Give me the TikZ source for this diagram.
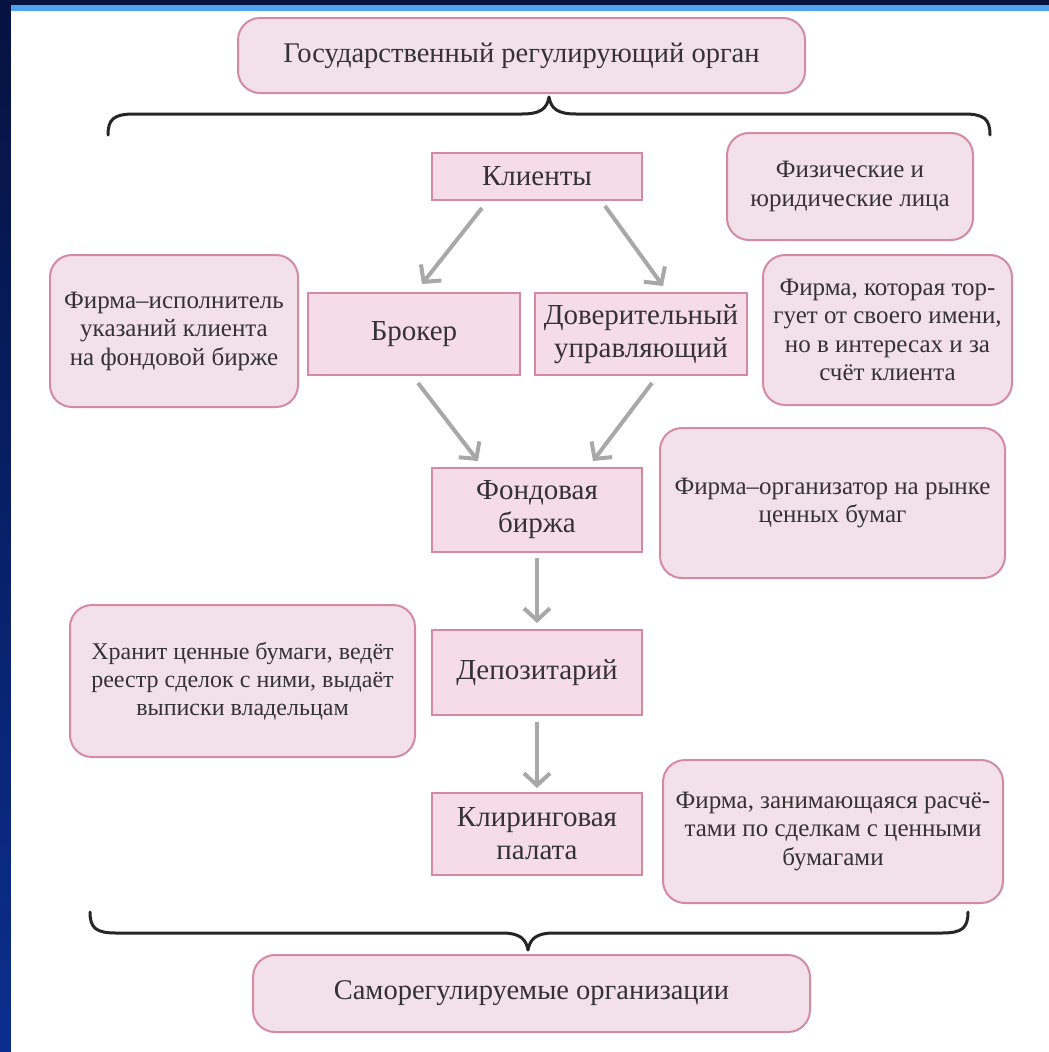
\documentclass[tikz,border=0pt]{standalone}
\usepackage{fontspec}
\setmainfont{Liberation Serif}
\usetikzlibrary{arrows.meta,calc}
\definecolor{navytop}{HTML}{061240}
\definecolor{navybot}{HTML}{0B2E8E}
\definecolor{skyline}{HTML}{4FA3EE}
\definecolor{boxfill}{HTML}{F3E1E9}
\definecolor{sqfill}{HTML}{F5DCE6}
\definecolor{boxline}{HTML}{D48AA5}
\definecolor{txt}{HTML}{333333}
\definecolor{arrgray}{HTML}{A8A8A8}
\tikzset{
  rbox/.style={draw=boxline, line width=2pt, fill=boxfill, rounded corners=22pt,
    text=txt, align=center, inner sep=0pt, font=\fontsize{25}{28.5}\selectfont},
  sbox/.style={draw=boxline, line width=2pt, fill=sqfill,
    text=txt, align=center, inner sep=0pt, font=\fontsize{29}{33}\selectfont},
  bigtext/.style={font=\fontsize{28.5}{33}\selectfont},
  midtext/.style={font=\fontsize{24}{28}\selectfont},
  arr/.style={draw=arrgray, line width=4pt, -{Straight Barb[length=12pt,width=26pt,line width=4pt]}},
  bracket/.style={draw=black!85, line width=3pt, line cap=round, line join=round}
}
\begin{document}
\begin{tikzpicture}[x=1pt,y=-1pt]
\useasboundingbox (0,0) rectangle (1049,1052);
% frame
\shade[top color=navytop, bottom color=navybot] (0,0) rectangle (1049,1052);
\fill[white] (11,11) rectangle (1049,1052);
\fill[skyline] (11,5) rectangle (1049,11);

% nodes
\node[rbox, bigtext, minimum width=567pt, minimum height=75pt] (gov) at (521.5,55.5) {Государственный регулирующий орган};
\node[sbox, minimum width=210pt, minimum height=47pt] (klienty) at (537,176.5) {Клиенты};
\node[rbox, minimum width=246pt, minimum height=107pt] (fiz) at (850,186.5) {Физические и\\юридические лица};
\node[rbox, minimum width=248pt, minimum height=152pt] (ispoln) at (174,331) {Фирма–исполнитель\\указаний клиента\\на фондовой бирже};
\node[sbox, minimum width=212pt, minimum height=82pt] (broker) at (414,334) {Брокер};
\node[sbox, minimum width=212pt, minimum height=82pt] (doverit) at (641,334) {Доверительный\\управляющий};
\node[rbox, minimum width=249pt, minimum height=150pt] (torg) at (887.5,330) {Фирма, которая тор-\\гует от своего имени,\\но в интересах и за\\счёт клиента};
\node[sbox, minimum width=210pt, minimum height=84pt] (fond) at (537,510) {Фондовая\\биржа};
\node[rbox, minimum width=345pt, minimum height=150pt] (organiz) at (832.5,503) {Фирма–организатор на рынке\\ценных бумаг};
\node[rbox, midtext, minimum width=345pt, minimum height=152pt] (hranit) at (242.5,681) {Хранит ценные бумаги, ведёт\\реестр сделок с ними, выдаёт\\выписки владельцам};
\node[sbox, minimum width=210pt, minimum height=85pt] (depo) at (537,672.5) {Депозитарий};
\node[sbox, minimum width=210pt, minimum height=82pt] (kliring) at (537,834) {Клиринговая\\палата};
\node[rbox, minimum width=340pt, minimum height=143pt] (raschet) at (833,831.5) {Фирма, занимающаяся расчё-\\тами по сделкам с ценными\\бумагами};
\node[rbox, bigtext, minimum width=557pt, minimum height=77pt] (samoreg) at (531.5,993.5) {Саморегулируемые организации};

% braces
\draw[bracket] (108,135) .. controls (108,119) and (114,114) .. (134,114) -- (522,114)
  .. controls (540,114) and (547,109) .. (549,97)
  .. controls (551,109) and (558,114) .. (576,114) -- (964,114)
  .. controls (984,114) and (990,119) .. (990,135);
\draw[bracket] (90,912) .. controls (90,928) and (96,933) .. (116,933) -- (502,933)
  .. controls (520,933) and (526,939) .. (528,950)
  .. controls (530,939) and (536,933) .. (554,933) -- (942,933)
  .. controls (962,933) and (968,928) .. (968,912);

% arrows
\draw[arr] ($(klienty.south)+(-55,7)$) -- ($(broker.north)+(8,-8)$);
\draw[arr] ($(klienty.south)+(68,5)$) -- ($(doverit.north)+(22,-6)$);
\draw[arr] ($(broker.south)+(4,7)$) -- ($(fond.north)+(-59,-6)$);
\draw[arr] ($(doverit.south)+(11,7)$) -- ($(fond.north)+(56,-6)$);
\draw[arr] ($(fond.south)+(0,5)$) -- ($(depo.north)+(0,-6)$);
\draw[arr] ($(depo.south)+(0,6)$) -- ($(kliring.north)+(0,-4)$);
\end{tikzpicture}
\end{document}
